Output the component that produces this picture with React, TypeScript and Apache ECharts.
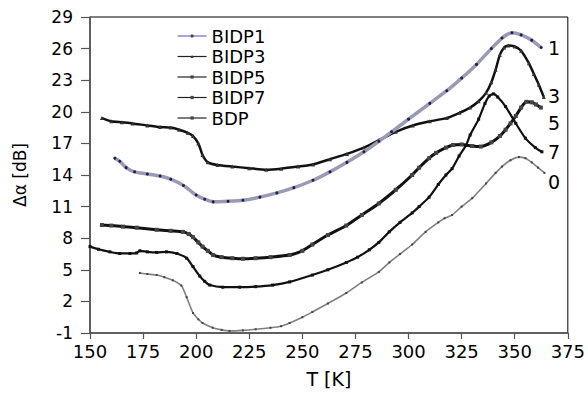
import React, { useEffect, useRef } from "react";
import * as echarts from "echarts";

const seriesNames = ["BIDP1", "BIDP3", "BIDP5", "BIDP7", "BDP"];
const endLabels = ["1", "3", "5", "7", "0"];
const xTicks = { min: 150, max: 375, step: 25 };
const yTicks = { min: -1, max: 29, step: 3 };

const bidp1: number[][] = [
  [161.7, 15.6], [164, 15.3], [167, 14.7], [171, 14.3], [177, 14.1], [183, 13.9], [188, 13.6],
  [194, 13.0], [200, 12.1], [204, 11.7], [208, 11.45], [215, 11.5], [222, 11.6], [230, 11.9],
  [238, 12.3], [246, 12.8], [255, 13.5], [263, 14.3], [271, 15.2], [279, 16.2], [286, 17.2],
  [292, 18.1], [300, 19.3], [310, 20.8], [318, 22.0], [325, 23.2], [332, 24.5], [339, 26.0],
  [344, 27.0], [348.7, 27.5], [353, 27.3], [358, 26.8], [362.5, 26.1],
];
const bidp3: number[][] = [
  [155.6, 19.4], [160, 19.1], [165, 19.0], [170, 18.9], [177, 18.7], [183, 18.55], [188, 18.5],
  [192, 18.3], [196, 18.0], [198.5, 17.7], [201, 17.0], [203, 15.9], [205.5, 15.2], [210, 14.95],
  [217, 14.8], [225, 14.65], [233, 14.5], [240, 14.6], [248, 14.8], [255, 15.0], [263, 15.5],
  [271, 16.0], [279, 16.6], [286, 17.3], [294, 18.1], [302, 18.7], [310, 19.1], [318, 19.4],
  [324, 19.9], [329, 20.4], [333, 21.0], [336.5, 21.8], [339, 22.8], [341, 24.0], [343, 25.4],
  [345, 26.1], [347, 26.3], [350, 26.2], [353, 25.8], [356.7, 24.6], [359, 23.6], [361.3, 22.6],
  [363.7, 21.4],
];
const bidp5: number[][] = [
  [155.6, 9.25], [160, 9.2], [165.5, 9.1], [172, 9.0], [181.4, 8.8], [188, 8.7], [193.8, 8.6],
  [196.5, 8.4], [198.5, 8.1], [201, 7.6], [203, 7.2], [205.5, 6.8], [208, 6.4], [212, 6.2],
  [217, 6.1], [222, 6.05], [228, 6.1], [235, 6.2], [244, 6.4], [250, 6.8], [254.7, 7.4],
  [262, 8.3], [270.7, 9.2], [278, 10.2], [286, 11.3], [294, 12.6], [301.7, 14.0], [305, 14.7],
  [309.7, 15.6], [313, 16.1], [317.6, 16.6], [321, 16.85], [325, 16.9], [330, 16.75], [334, 16.7],
  [339, 17.1], [343, 17.7], [345.7, 18.3], [348, 18.9], [350.5, 19.6], [353, 20.4], [355.5, 20.95],
  [358, 20.9], [360, 20.7], [362.3, 20.4],
];
const bidp7: number[][] = [
  [150, 7.2], [154, 6.95], [159.4, 6.7], [164, 6.55], [168.8, 6.55], [172, 6.6], [173.5, 6.8],
  [177, 6.7], [181.4, 6.65], [186, 6.7], [190.9, 6.55], [195.5, 6.1], [198.5, 5.3], [201.7, 4.4],
  [204, 3.9], [206.4, 3.55], [212.5, 3.35], [220.5, 3.35], [228, 3.4], [236, 3.55], [244, 3.85],
  [254.7, 4.5], [262, 5.0], [270.7, 5.7], [276, 6.2], [281.5, 6.9], [286, 7.6], [290.9, 8.6],
  [296, 9.5], [301.7, 10.4], [305, 11.0], [309.7, 11.9], [314, 13.1], [317.6, 14.0], [320.5, 14.6],
  [323.8, 15.8], [327, 16.8], [329, 17.8], [333, 19.3], [336, 20.8], [338, 21.5], [340, 21.7],
  [342, 21.4], [345.7, 20.5], [350.5, 18.9], [355, 17.5], [359.7, 16.6], [362.8, 16.2],
];
const bdp: number[][] = [
  [173.5, 4.7], [177, 4.6], [181.4, 4.5], [185, 4.3], [189, 4.0], [193, 3.5], [195.5, 2.4],
  [198.5, 0.9], [201, 0.3], [203, -0.05], [207.8, -0.5], [212, -0.7], [215.7, -0.8], [222, -0.75],
  [228, -0.65], [235, -0.5], [240, -0.35], [244, -0.05], [250, 0.5], [254.7, 1.0], [262, 1.8],
  [270.7, 2.8], [278, 3.8], [286, 4.8], [291, 5.7], [296, 6.5], [301.7, 7.4], [308, 8.6],
  [314, 9.5], [317, 9.9], [320.5, 10.2], [325, 11.0], [330, 11.8], [336.5, 13.2], [341, 14.2],
  [344, 14.8], [348, 15.4], [352, 15.7], [355, 15.6], [358, 15.2], [361, 14.7], [364, 14.2],
];

const seriesData = [bidp1, bidp3, bidp5, bidp7, bdp];
const endLabelY = [48, 96, 123, 152, 182];

const FONT = "DejaVu Sans";

export default function App() {
  const ref = useRef<HTMLDivElement>(null);
  useEffect(() => {
    if (!ref.current) return;
    const chart = echarts.init(ref.current, undefined, { renderer: "svg" });
    // shift so that axis min is a multiple of the tick step
    const off = -yTicks.min;
    const shift = (d: number[][]) => d.map(([x, y]) => [x, y + off]);

    const styles = [
      { line: "#9a9ab0", width: 3.5, sym: "circle", size: 3, symColor: "#1c1c5a", legLine: "#6a6ac8" },
      { line: "#111", width: 2.5, sym: "triangle", size: 4, symColor: "#333", legLine: "#222" },
      { line: "#111", width: 3, sym: "rect", size: 4, symColor: "#444", legLine: "#222" },
      { line: "#111", width: 2.2, sym: "rect", size: 3, symColor: "#111", legLine: "#222" },
      { line: "#808080", width: 1.6, sym: "rect", size: 2, symColor: "#444", legLine: "#222" },
    ];

    const series = seriesNames.map((name, i) => ({
      name,
      type: "line",
      data: shift(seriesData[i]),
      smooth: 0.2,
      symbol: styles[i].sym,
      symbolSize: styles[i].size,
      showSymbol: true,
      lineStyle: { color: styles[i].line, width: styles[i].width },
      itemStyle: { color: styles[i].symColor },
      z: 10 - i,
    }));

    chart.setOption({
      animation: false,
      textStyle: { fontFamily: FONT },
      grid: {
        left: 90, right: 19, top: 17, bottom: 60,
        show: true, borderColor: "#000", borderWidth: 1,
      },
      legend: {
        orient: "vertical",
        left: 172,
        top: 22,
        itemWidth: 29,
        itemHeight: 4,
        itemGap: 2.5,
        textStyle: { fontFamily: FONT, fontSize: 18, color: "#000", lineHeight: 18 },
        data: seriesNames.map((name, i) => ({
          name,
          lineStyle: { color: styles[i].legLine, width: 1.2 },
          itemStyle: { color: "#444" },
        })),
      },
      xAxis: {
        type: "value",
        min: xTicks.min,
        max: xTicks.max,
        interval: xTicks.step,
        name: "T [K]",
        nameLocation: "middle",
        nameGap: 36,
        nameTextStyle: { fontFamily: FONT, fontSize: 19, color: "#000" },
        axisLine: { onZero: false, lineStyle: { color: "#555", width: 1.5 } },
        axisTick: { show: true, length: 6, lineStyle: { color: "#555", width: 1.2 } },
        axisLabel: { fontFamily: FONT, fontSize: 18, color: "#000", margin: 9 },
        splitLine: { show: false },
      },
      yAxis: {
        type: "value",
        min: 0,
        max: yTicks.max - yTicks.min,
        interval: yTicks.step,
        name: "Δα [dB]",
        nameLocation: "middle",
        nameRotate: 90,
        nameGap: 62,
        nameTextStyle: { fontFamily: FONT, fontSize: 17, color: "#000" },
        axisLine: { show: true, onZero: false, lineStyle: { color: "#555", width: 1.5 } },
        axisTick: { show: true, length: 9, lineStyle: { color: "#555", width: 1.2 } },
        axisLabel: {
          fontFamily: FONT, fontSize: 17, color: "#000", margin: 17,
          formatter: (v: number) => String(Math.round(v - off)),
        },
        splitLine: { show: false },
      },
      graphic: endLabels.map((t, i) => ({
        type: "text",
        left: 548,
        top: endLabelY[i] - 10,
        style: { text: t, fontFamily: FONT, fontSize: 19, fill: "#000" },
        z: 100,
      })),
      series,
    });
    return () => chart.dispose();
  }, []);
  return <div ref={ref} style={{ width: 588, height: 393, position: "absolute", left: 0, top: 0 }} />;
}
